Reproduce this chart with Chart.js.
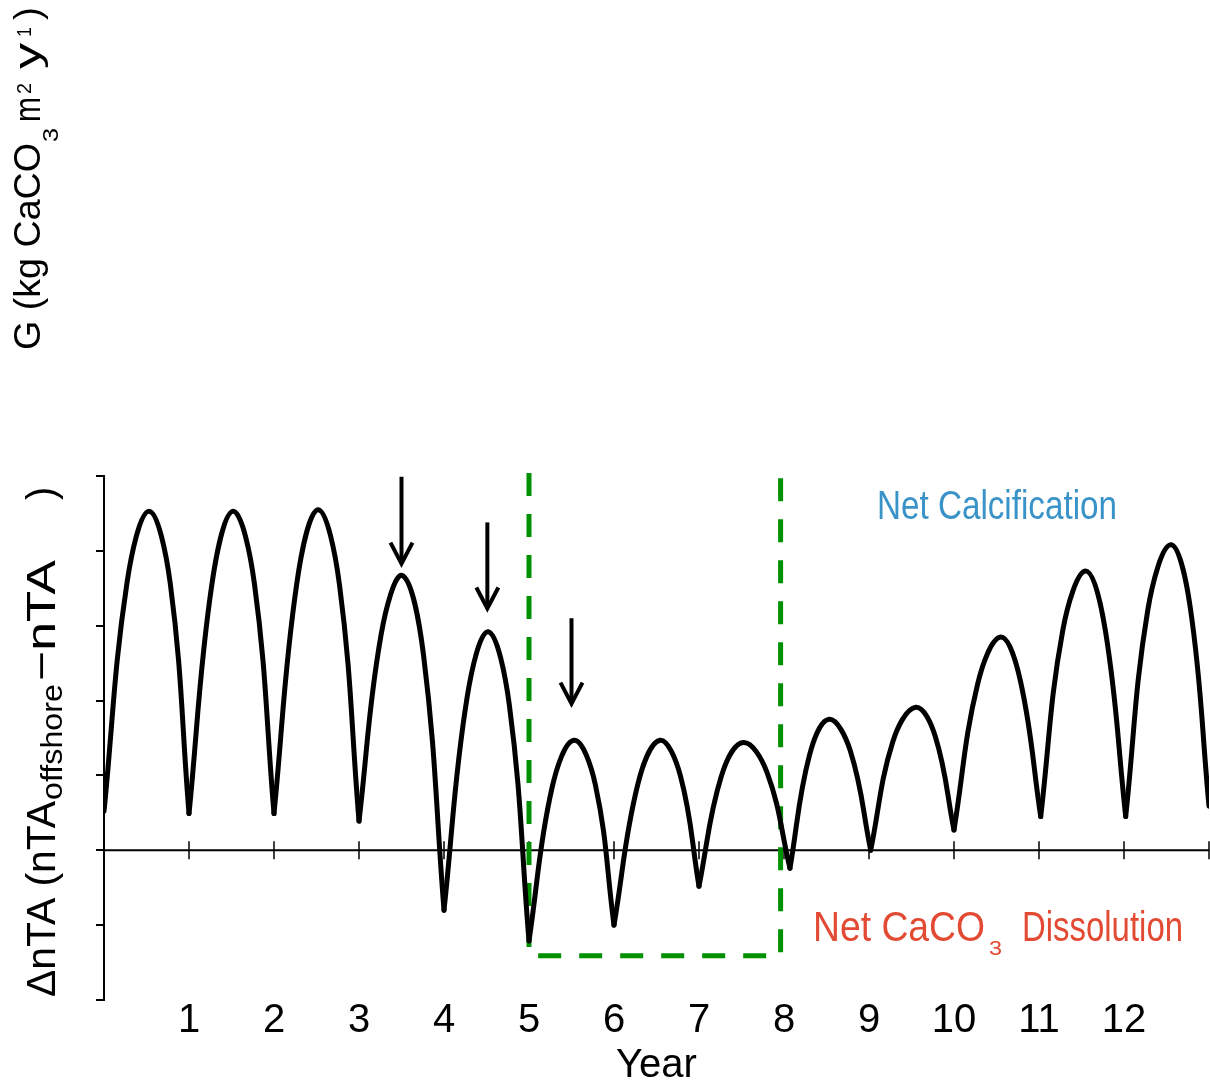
<!DOCTYPE html>
<html lang="en">
<head>
<meta charset="UTF-8">
<title>ΔnTA by year</title>
<script src="https://cdn.jsdelivr.net/npm/chart.js"></script>
<style>
  html, body { margin: 0; padding: 0; background: #fff; }
  #wrap { width: 1210px; height: 1086px; }
</style>
</head>
<body>
<div id="wrap"><canvas id="chart"></canvas></div>
<script>
// curve: minima at the year marks, peaks mid-year
const years = [
  0, 0.27, 0.53, 0.78, 1,
  1.27, 1.52, 1.77, 2,
  2.27, 2.52, 2.77, 3,
  3.26, 3.51, 3.76, 4,
  4.27, 4.52, 4.77, 5,
  5.27, 5.53, 5.78, 6,
  6.28, 6.54, 6.78, 7,
  7.26, 7.52, 7.80, 8.07,
  8.30, 8.53, 8.78, 9.02,
  9.28, 9.55, 9.78, 10,
  10.28, 10.55, 10.78, 11.02,
  11.28, 11.55, 11.78, 12.02,
  12.28, 12.55, 12.78, 13
];
const dNTA = [
  0.52, 3.57, 4.53, 3.56, 0.49,
  3.56, 4.53, 3.56, 0.49,
  3.58, 4.55, 3.55, 0.39,
  2.88, 3.67, 2.60, -0.80,
  2.03, 2.92, 1.93, -1.21,
  0.83, 1.47, 0.88, -1.00,
  0.88, 1.47, 1.00, -0.48,
  0.98, 1.44, 1.04, -0.24,
  1.27, 1.75, 1.33, 0.00,
  1.45, 1.91, 1.52, 0.27,
  2.23, 2.85, 2.27, 0.45,
  2.94, 3.73, 2.94, 0.45,
  3.21, 4.08, 3.24, 0.59
];

// dashed green box around years 5-8
const boxYears = [7.96, 7.96, 5.0, 5.0];
const boxNTA = [4.97, -1.41, -1.41, 5.2];

// arrows over the shrinking peaks
const arrowYears = [3.5, 4.51, 5.5];
const arrowFrom = [4.99, 4.38, 3.10];
const arrowTo = [3.83, 3.23, 1.96];

const yearTicks = [1, 2, 3, 4, 5, 6, 7, 8, 9, 10, 11, 12, 13];
const tickLabels = ['1', '2', '3', '4', '5', '6', '7', '8', '9', '10', '11', '12'];

const FONT = "'Liberation Sans', Arial, Helvetica, sans-serif";

// split the curve into arches so each minimum is a sharp cusp
const arches = [];
for (let i = 0; i + 4 < years.length; i += 4) {
  const pts = [];
  for (let j = i; j <= i + 4; j++) pts.push({ x: years[j], y: dNTA[j] });
  arches.push({
    data: pts,
    borderColor: '#000',
    borderWidth: 5,
    borderCapStyle: 'round',
    borderJoinStyle: 'round',
    tension: 0.4,
    pointRadius: 0,
    order: 1
  });
}

const box = {
  data: boxYears.map((x, i) => ({ x, y: boxNTA[i] })),
  borderColor: '#009100',
  borderWidth: 5,
  borderDash: [23, 18],
  tension: 0,
  pointRadius: 0,
  clip: false,
  order: 2
};

// zero line with year ticks through it
const zeroLine = {
  id: 'zeroLine',
  beforeDatasetsDraw(chart) {
    const { ctx, chartArea, scales: { x, y } } = chart;
    const y0 = y.getPixelForValue(0);
    ctx.save();
    ctx.strokeStyle = '#000';
    ctx.lineWidth = 2;
    ctx.beginPath();
    ctx.moveTo(chartArea.left, y0);
    ctx.lineTo(chartArea.right, y0);
    ctx.stroke();
    ctx.lineWidth = 1.5;
    ctx.beginPath();
    yearTicks.forEach(v => {
      const px = x.getPixelForValue(v);
      ctx.moveTo(px, y0 - 9);
      ctx.lineTo(px, y0 + 9);
    });
    ctx.stroke();
    ctx.restore();
  }
};

function piece(ctx, text, size, s, shift, width) {
  ctx.font = size + 'px ' + FONT;
  const w = ctx.measureText(text).width;
  ctx.save();
  ctx.translate(s, shift);
  if (width) ctx.scale(width / w, 1);
  ctx.fillText(text, 0, 0);
  ctx.restore();
}

const labels = {
  id: 'labels',
  afterDraw(chart) {
    const { ctx, scales: { x, y } } = chart;
    ctx.save();

    // arrows
    ctx.strokeStyle = '#000';
    ctx.lineWidth = 4;
    ctx.lineCap = 'butt';
    arrowYears.forEach((v, i) => {
      const px = x.getPixelForValue(v);
      const y1 = y.getPixelForValue(arrowFrom[i]);
      const y2 = y.getPixelForValue(arrowTo[i]);
      ctx.beginPath();
      ctx.moveTo(px, y1);
      ctx.lineTo(px, y2 - 2);
      ctx.stroke();
      ctx.beginPath();
      ctx.moveTo(px - 11, y2 - 21);
      ctx.lineTo(px, y2);
      ctx.lineTo(px + 11, y2 - 21);
      ctx.stroke();
    });

    ctx.textBaseline = 'alphabetic';
    ctx.textAlign = 'left';

    // annotations
    ctx.fillStyle = '#3a93c8';
    piece(ctx, 'Net Calcification', 41, 877, 519, 240);
    ctx.fillStyle = '#e34a33';
    piece(ctx, 'Net CaCO', 43, 813, 941, 172);
    piece(ctx, '3', 20, 989, 955, 13);
    piece(ctx, 'Dissolution', 43, 1022, 941, 161);

    // rotated axis titles
    ctx.fillStyle = '#000';
    ctx.save();
    ctx.translate(40, 350);
    ctx.rotate(-Math.PI / 2);
    piece(ctx, 'G (kg CaCO', 36, 0, 0, 207);
    piece(ctx, '3', 22, 208, 18, 14);
    piece(ctx, 'm', 36, 228, 0, 25);
    piece(ctx, '2', 20, 256, -9, 11);
    piece(ctx, 'y', 36, 281, 0, 26);
    piece(ctx, '1', 20, 313, -9, 10);
    piece(ctx, ')', 36, 330, 0, 13);
    ctx.restore();

    ctx.save();
    ctx.translate(55, 997);
    ctx.rotate(-Math.PI / 2);
    piece(ctx, '\u0394nTA (nTA', 40, 0, 0, 196);
    piece(ctx, 'offshore', 30, 197, 7, 116);
    piece(ctx, '\u2212nTA', 40, 316, 0, 121);
    piece(ctx, ')', 40, 497, 0);
    ctx.restore();

    ctx.restore();
  }
};

new Chart(document.getElementById('chart'), {
  type: 'line',
  data: { datasets: [...arches, box] },
  options: {
    responsive: true,
    maintainAspectRatio: false,
    animation: false,
    layout: { padding: { left: 96, right: 0, top: 476, bottom: 0 } },
    plugins: { legend: { display: false }, tooltip: { enabled: false } },
    scales: {
      x: {
        type: 'linear',
        min: 0,
        max: 13,
        grid: { display: false, drawTicks: false },
        border: { display: false },
        ticks: {
          stepSize: 1,
          padding: 1,
          color: '#000',
          font: { family: FONT, size: 40, lineHeight: 1 },
          maxRotation: 0,
          autoSkip: false,
          callback: v => (v >= 1 && v <= 12 ? tickLabels[v - 1] : '')
        },
        title: {
          display: true,
          text: 'Year',
          color: '#000',
          font: { family: FONT, size: 40, lineHeight: 1 },
          padding: { top: 4, bottom: 0 }
        }
      },
      y: {
        min: -2,
        max: 5,
        grid: { drawOnChartArea: false, drawTicks: true, tickLength: 8, color: '#000', lineWidth: 2 },
        border: { display: true, color: '#000', width: 2 },
        ticks: { stepSize: 1, display: false }
      }
    }
  },
  plugins: [zeroLine, labels]
});
</script>
</body>
</html>
